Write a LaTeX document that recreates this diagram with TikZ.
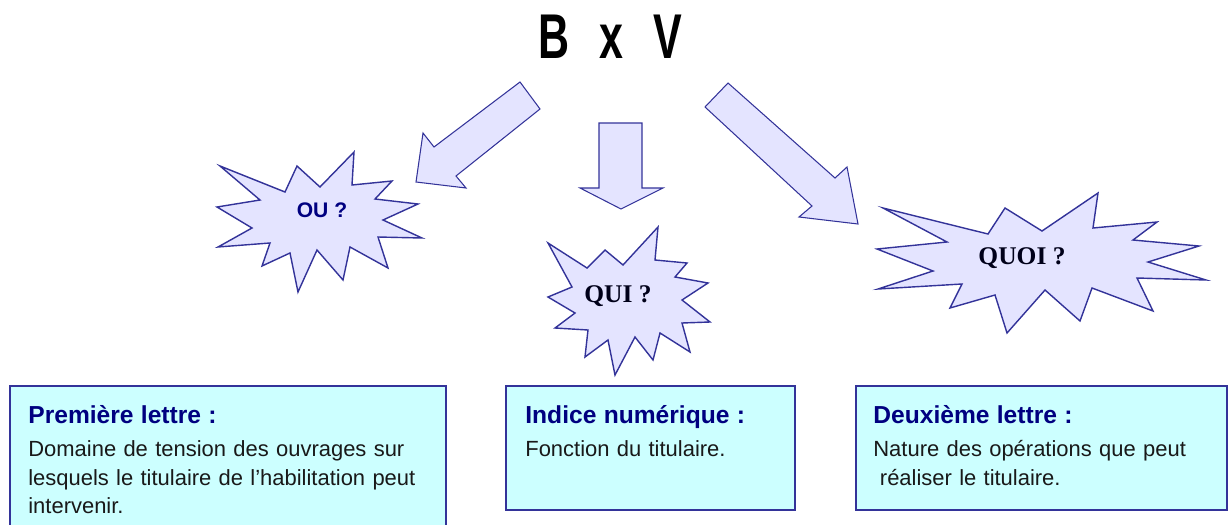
\documentclass[tikz,border=0pt]{standalone}
\usepackage{fontspec}
\setmainfont{Liberation Sans}
\newfontfamily\timesface{Liberation Serif}
\usetikzlibrary{positioning}

\definecolor{navy}{HTML}{000080}
\definecolor{frame}{HTML}{333399}
\definecolor{cyanfill}{HTML}{CCFFFF}
\definecolor{lavender}{HTML}{E4E4FF}

\newcommand{\boxhead}[1]{{\fontsize{14}{16}\selectfont\bfseries\color{navy}#1}}

\begin{document}
\begin{tikzpicture}[
  x=0.02cm, y=-0.02cm,
  headline/.style={font=\fontsize{36}{40}\selectfont\bfseries, text=black},
  burst/.style={draw=frame, fill=lavender, line width=0.8pt, line join=miter},
  blockarrow/.style={draw=frame, fill=lavender, line width=0.6pt, line join=miter},
  sanslabel/.style={font=\fontsize{12}{14}\selectfont\bfseries, text=navy},
  seriflabel/.style={font=\timesface\fontsize{14.5}{16}\selectfont\bfseries, text=black!90!blue},
  infobox/.style={rectangle, draw=frame, fill=cyanfill, line width=1.1pt, anchor=north west, inner sep=0pt},
  infotext/.style={anchor=base west, inner sep=0pt, align=left, text width=8.4cm,
    font=\fontsize{12.5}{16.2}\selectfont, text=black!90}
]
\useasboundingbox (0,0) rectangle (1229,524);
\clip (0,0) rectangle (1229,524);

% Title
\node[headline] (bxv) at (610,37) {\scalebox{0.68}[1]{B\hspace{0.7em}x\hspace{0.7em}V}};

% Arrows
\filldraw[blockarrow] (520,82) -- (540,109) -- (456,176) -- (466,188) -- (416,182) -- (423,133) -- (434,147) -- cycle;
\filldraw[blockarrow] (599,123) -- (642,123) -- (642,188) -- (663,188) -- (621,209) -- (580,188) -- (599,188) -- cycle;
\filldraw[blockarrow] (728,83) -- (705,107) -- (812,206) -- (799,217) -- (858,224) -- (847,167) -- (835,178) -- cycle;

% Bursts
\filldraw[burst] (220,166) -- (285,192) -- (297,166) -- (320,187) -- (354,152) -- (352,185)
  -- (392,181) -- (375,199) -- (418,204) -- (383,220) -- (422,238) -- (378,237)
  -- (388,268) -- (350,247) -- (343,280) -- (317,250) -- (298,292) -- (290,253)
  -- (262,266) -- (270,243) -- (218,247) -- (252,228) -- (217,207) -- (260,200) -- cycle;
\node[sanslabel] (ou) at (322,210) {OU ?};

\filldraw[burst] (548,243) -- (587,268) -- (605,250) -- (623,265) -- (658,227) -- (655,260)
  -- (687,263) -- (675,277) -- (708,283) -- (682,300) -- (710,322) -- (682,323)
  -- (690,352) -- (660,333) -- (653,360) -- (635,337) -- (615,375) -- (608,340)
  -- (585,357) -- (588,330) -- (555,328) -- (575,313) -- (548,297) -- (572,287) -- cycle;
\node[seriflabel] (qui) at (618,296) {QUI ?};

\filldraw[burst] (883,208) -- (988,234) -- (1005,208) -- (1042,231) -- (1098,193) -- (1093,228)
  -- (1157,222) -- (1133,240) -- (1199,246) -- (1148,262) -- (1206,280) -- (1137,278)
  -- (1153,311) -- (1092,288) -- (1080,321) -- (1045,290) -- (1007,333) -- (995,295)
  -- (950,308) -- (962,284) -- (878,289) -- (933,271) -- (877,249) -- (947,242) -- cycle;
\node[seriflabel] (quoi) at (1022,258) {QUOI ?};

% Boxes
\node[infobox, minimum width=8.72cm, minimum height=2.9cm] (first) at (9,385) {};
\node[infotext] (firsttext) at ([shift={(19,38)}]first.north west)
  {\boxhead{Première lettre :}\\[3pt]
   Domaine de tension des ouvrages sur\\
   lesquels le titulaire de l’habilitation peut\\
   intervenir.};

\node[infobox, minimum width=5.78cm, minimum height=2.48cm] (index) at (505,385) {};
\node[infotext] (indextext) at ([shift={(20,38)}]index.north west)
  {\boxhead{Indice numérique :}\\[3pt]
   Fonction du titulaire.};

\node[infobox, minimum width=7.42cm, minimum height=2.48cm] (second) at (855,385) {};
\node[infotext] (secondtext) at ([shift={(18,38)}]second.north west)
  {\boxhead{Deuxième lettre :}\\[3pt]
   Nature des opérations que peut\\
   \hspace*{0.3em}réaliser le titulaire.};

\end{tikzpicture}
\end{document}
